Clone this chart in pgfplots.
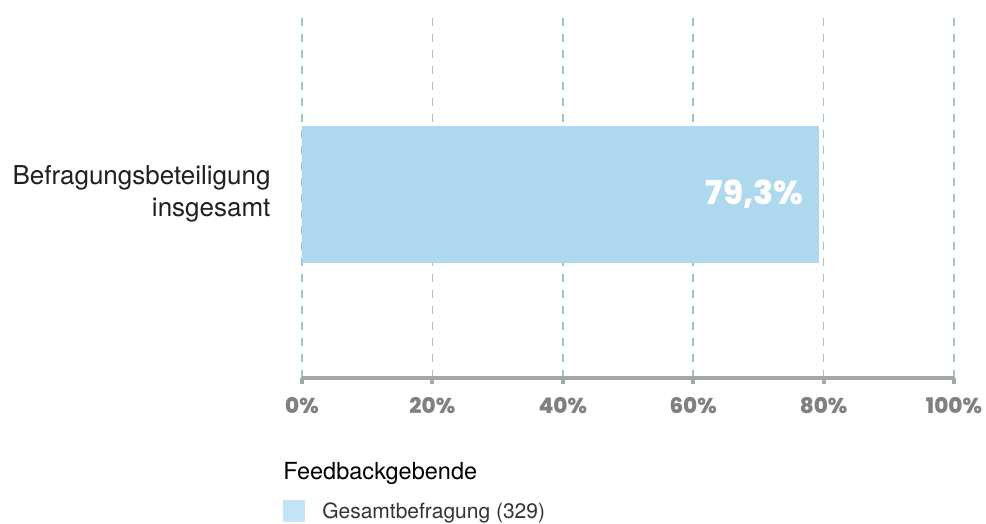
\documentclass[border=0pt]{standalone}
\usepackage{fontspec}
\setmainfont{TeX Gyre Heros}
\newfontfamily\pop{Poppins}[BoldFont={Poppins ExtraBold}]
\usepackage{pgfplots}
\pgfplotsset{compat=1.18}
\definecolor{barcol}{HTML}{ADD8EE}
\definecolor{legcol}{HTML}{C3E4F4}
\definecolor{gridcol}{HTML}{9CC8C2}
\definecolor{axcol}{HTML}{A6A6A6}
\definecolor{tickcol}{HTML}{808080}
\begin{document}
\begin{tikzpicture}
\begin{axis}[
  scale only axis,
  width=652pt, height=368pt,
  xmin=0, xmax=100, ymin=-1, ymax=1,
  axis x line*=bottom, axis y line*=left,
  x axis line style={draw=axcol, line width=4pt},
  y axis line style={draw=none},
  xtick={0,20,40,60,80,100},
  xticklabels={0\%,20\%,40\%,60\%,80\%,100\%},
  xtick align=outside,
  x tick style={draw=axcol, line width=4pt},
  major tick length=6pt,
  xticklabel style={font=\pop\bfseries\fontsize{21.5}{24}\selectfont, text=tickcol, yshift=-10pt},
  ytick={0},
  yticklabels={{Befragungsbeteiligung\\insgesamt}},
  yticklabel style={align=right, font=\fontsize{26}{32}\selectfont, text=black!88, xshift=-22pt},
  y tick style={draw=none},
  xmajorgrids,
  grid style={draw=gridcol, line width=1.5pt, dash pattern=on 8pt off 8pt},
  xbar, bar width=137pt,
  point meta=explicit symbolic,
  nodes near coords,
  nodes near coords style={anchor=east, xshift=-12pt, text=white, font=\pop\bfseries\fontsize{33}{36}\selectfont},
  legend style={at={(axis description cs:-0.029,-0.3315)}, anchor=north west, draw=none, fill=none, inner sep=0pt, font=\fontsize{21}{24}\selectfont, text=black!80, row sep=0pt},
  legend cell align=left,
  legend image code/.code={\fill[legcol] (0pt,-11pt) rectangle (22pt,11pt);},
  clip=false,
]
\addplot[fill=barcol, draw=none] coordinates {(79.3,0) [79,3\%]};
\addlegendentry{\hspace{15pt}Gesamtbefragung (329)}
\node[anchor=base west, inner sep=0pt, font=\fontsize{23.5}{26}\selectfont, text=black] at (axis description cs:-0.029,-0.277) {Feedbackgebende};
\end{axis}
\pgfresetboundingbox
\useasboundingbox (-302pt,-145pt) rectangle (684pt,378pt);
\end{tikzpicture}
\end{document}
